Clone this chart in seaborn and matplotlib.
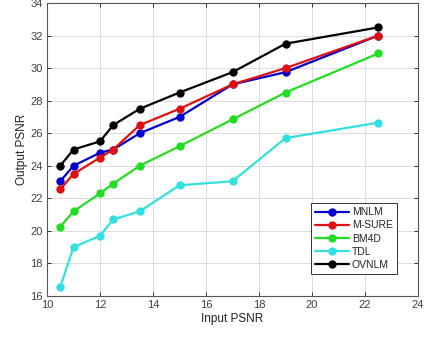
import matplotlib
matplotlib.use("Agg")
import matplotlib.pyplot as plt
import seaborn as sns
import pandas as pd

x_vals = [10.5, 11, 12, 12.5, 13.5, 15, 17, 19, 22.5]
mnlm = [23.05, 24.0, 24.8, 25.0, 26.0, 27.0, 29.0, 29.75, 32.0]
msure = [22.55, 23.5, 24.5, 25.0, 26.5, 27.5, 29.0, 30.0, 32.0]
bm4d = [20.25, 21.2, 22.3, 22.9, 24.0, 25.2, 26.85, 28.5, 30.9]
tdl = [16.55, 19.0, 19.7, 20.7, 21.2, 22.8, 23.05, 25.7, 26.65]
ovnlm = [24.0, 25.0, 25.5, 26.5, 27.5, 28.5, 29.75, 31.5, 32.5]
series_names = ["MNLM", "M-SURE", "BM4D", "TDL", "OVNLM"]
series_vals = [mnlm, msure, bm4d, tdl, ovnlm]
colors = ["#0000d0", "#e01010", "#22dd22", "#33e0e0", "#000000"]

rows = []
for name, vals in zip(series_names, series_vals):
    for xv, yv in zip(x_vals, vals):
        rows.append({"Input PSNR": xv, "Output PSNR": yv, "Method": name})
df = pd.DataFrame(rows)

sns.set_theme(style="whitegrid")
plt.rcParams["font.family"] = ["Liberation Sans", "DejaVu Sans"]

fig = plt.figure(figsize=(4.24, 3.39), dpi=100)
ax = fig.add_axes([47/424, 43/339, 371/424, 293/339])

sns.lineplot(data=df, x="Input PSNR", y="Output PSNR", hue="Method",
             hue_order=series_names, palette=dict(zip(series_names, colors)),
             style="Method", markers={n: "o" for n in series_names},
             dashes=False, linewidth=1.6, markersize=6, markeredgewidth=0,
             ax=ax)

ax.set_xlim(10, 24)
ax.set_ylim(16, 34)
ax.set_xticks(range(10, 25, 2))
ax.set_yticks(range(16, 35, 2))
ax.set_facecolor("white")
ax.grid(True, color="#dcdcdc", linewidth=0.7)
for s in ax.spines.values():
    s.set_color("#555555")
    s.set_linewidth(0.8)
ax.tick_params(axis="both", which="both", direction="in", length=3, width=0.7,
               colors="#333333", labelcolor="#404040", labelsize=8,
               top=True, right=True, bottom=True, left=True, pad=3)
ax.set_xlabel("Input PSNR", fontsize=8.5, color="#222222", labelpad=2)
ax.set_ylabel("Output PSNR", fontsize=8.5, color="#222222", labelpad=2)

leg = ax.legend(loc="lower right", bbox_to_anchor=(0.943, 0.075), fontsize=7.5,
                frameon=True, fancybox=False, framealpha=1, edgecolor="#333333",
                handlelength=3.2, borderpad=0.4, labelspacing=0.3, handletextpad=0.3,
                borderaxespad=0)
leg.get_frame().set_linewidth(0.7)

fig.savefig("out.png", dpi=100)
